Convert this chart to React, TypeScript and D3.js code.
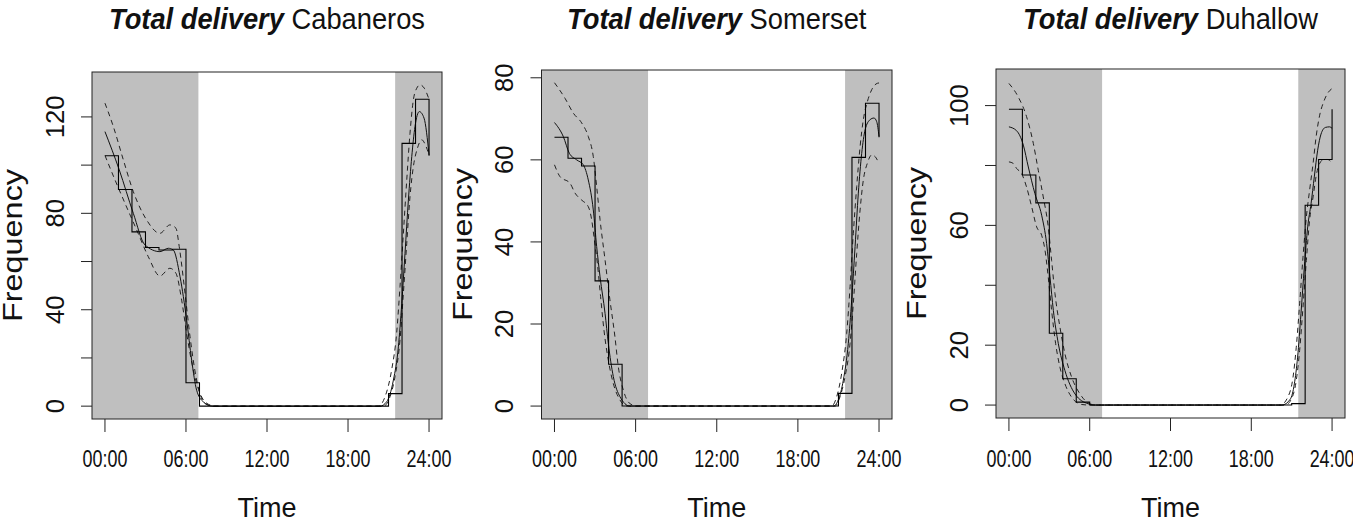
import React from "react";
import * as d3 from "d3";

// ---------- DATA ----------
const panelNames = ["Cabaneros", "Somerset", "Duhallow"];
const xTickHours = [0, 6, 12, 18, 24];
const xTickLabels = ["00:00", "06:00", "12:00", "18:00", "24:00"];
const nightEdges = [6.92, 21.49]; // sunrise, sunset (hours)

const yMaxes = [133.3, 78.75, 107.9];
const yTicks = [
  [0, 20, 40, 60, 80, 100, 120],
  [0, 20, 40, 60, 80],
  [0, 20, 40, 60, 80, 100],
];
const yTickLabels = [
  ["0", "", "40", "", "80", "", "120"],
  ["0", "20", "40", "60", "80"],
  ["0", "20", "", "60", "", "100"],
];

// hourly observed frequencies, hour 0..24 (24 wraps to 0)
const cabanerosSteps = [103.9, 89.9, 72.3, 65.8, 64.8, 65.1, 9.7, 0, 0, 0, 0, 0, 0, 0, 0, 0, 0, 0, 0, 0, 0, 5.2, 109, 127.3, 103.9];
const somersetSteps = [65.5, 60.4, 58.5, 30.5, 10.2, 0, 0, 0, 0, 0, 0, 0, 0, 0, 0, 0, 0, 0, 0, 0, 0, 3.1, 60.6, 73.8, 65.5];
const duhallowSteps = [98.8, 76.8, 67.5, 24, 8.8, 1.0, 0, 0, 0, 0, 0, 0, 0, 0, 0, 0, 0, 0, 0, 0, 0, 0.5, 66.7, 82, 98.8];

// smoothed fit [hour, value]
const cabanerosMean = [[0,113.9],[1.06,98],[2.1,80],[2.96,66.9],[4.07,64.1],[4.69,65.5],[5.06,64.8],[5.56,53.7],[6.05,35.7],[6.42,19.1],[6.79,6.6],[7.28,1.8],[8.0,0],[20.37,0],[20.86,1.8],[21.36,10.8],[21.73,24.6],[21.98,42.6],[22.22,63.4],[22.47,85.5],[22.72,103.5],[22.96,116],[23.28,122.2],[23.63,119.5],[24,104.2]];
const cabanerosUpper = [[0,125.7],[0.62,116],[1.36,102.2],[2.1,89],[3.09,77.2],[4.07,71.7],[4.81,75.2],[5.26,73.8],[5.5,66.2],[5.93,46.8],[6.3,28.8],[6.79,10.8],[7.4,1.1],[8,0],[20.25,0],[20.74,3.9],[21.23,15],[21.6,30.2],[21.85,49.6],[22.1,71.7],[22.35,93.9],[22.59,113.2],[22.84,127.1],[23.09,131.9],[23.33,133.3],[23.65,131.9],[24,127.3]];
const cabanerosLower = [[0,104],[0.74,93.9],[1.48,84.2],[2.35,73.1],[3.21,62],[4.07,54],[4.81,57.2],[5.26,55.1],[5.68,44],[6.05,30.2],[6.54,15],[7.04,5.3],[7.65,0.8],[8.2,0],[20.62,0],[21.11,3.9],[21.48,12.2],[21.85,27.4],[22.1,46.8],[22.35,67.6],[22.59,86.9],[22.84,99.4],[23.14,107],[23.46,110.5],[23.78,107.7],[24,104.2]];

const somersetMean = [[0,69.1],[0.65,65.7],[1.1,61.6],[1.64,60],[2.13,58.8],[2.5,55.1],[2.87,47.8],[3.12,38.9],[3.37,31.5],[3.74,22.6],[3.98,15.3],[4.35,7.2],[4.84,2.3],[5.58,0],[20.62,0],[20.99,1.5],[21.36,6.3],[21.73,15.3],[21.98,25.9],[22.23,38.9],[22.47,51.9],[22.72,61.6],[22.97,67.3],[23.34,69.8],[23.63,70.2],[23.83,69.3],[24,65.7]];
const somersetUpper = [[0,78.8],[0.78,75],[1.39,71.4],[2.01,69],[2.5,65.7],[2.87,60.8],[3.12,53.5],[3.37,45.4],[3.74,35.6],[4.1,25.9],[4.47,16.9],[4.72,9.6],[5.09,3.9],[5.58,0.6],[6.08,0],[20.5,0],[20.87,2.3],[21.24,8],[21.61,17.7],[21.86,29.1],[22.1,42.1],[22.35,53.5],[22.6,63.2],[22.84,69.8],[23.14,74.2],[23.46,77.1],[23.78,78.5],[24,78.75]];
const somersetLower = [[0,58.8],[0.41,55.9],[1.15,54.3],[1.52,51.9],[2.01,50.2],[2.5,48.6],[2.75,45.4],[2.92,41.3],[3.17,34.8],[3.41,26.7],[3.66,18.5],[3.98,11.2],[4.35,5.5],[4.84,1.5],[5.33,0],[20.75,0],[21.12,2.3],[21.49,7.2],[21.86,15.3],[22.1,25],[22.35,37.2],[22.6,47.8],[22.84,55.1],[23.14,59.2],[23.46,61.2],[23.71,60.8],[23.98,59.2]];

const duhallowMean = [[0,92.9],[0.57,91.6],[1.07,86.8],[1.44,79.5],[1.93,70.6],[2.43,63.4],[2.8,53.9],[3.05,42.8],[3.3,31.6],[3.67,20.5],[4.16,11.5],[4.91,3.7],[5.9,0.4],[6.4,0],[20.28,0],[20.9,2],[21.2,7.1],[21.44,16],[21.69,30.5],[21.94,46.1],[22.19,59.5],[22.44,67.3],[22.68,76.2],[22.93,85.1],[23.18,90.5],[23.5,92.7],[23.82,92.9],[24,92.4]];
const duhallowUpper = [[0,107.4],[0.69,102.9],[1.31,96.3],[1.81,87.4],[2.18,78.4],[2.55,69.5],[2.92,59.5],[3.17,48.3],[3.42,37.2],[3.79,26],[4.16,17.1],[4.66,9.3],[5.28,3.7],[6.02,0.4],[6.5,0],[20.15,0],[20.77,3.2],[21.1,9.3],[21.34,19.3],[21.59,33.8],[21.84,49.4],[22.09,62.8],[22.33,71.7],[22.59,80.7],[22.83,90.1],[23.08,96.8],[23.38,101.3],[23.67,104.1],[24,105.7]];
const duhallowLower = [[0,81.2],[0.32,80.7],[0.57,79],[0.94,77.3],[1.31,72.8],[1.69,66.2],[2.06,59.5],[2.43,56.7],[2.68,51.7],[2.92,42.7],[3.17,31.6],[3.47,20.5],[3.79,12.6],[4.16,7.1],[4.66,2.6],[5.4,0.2],[6.0,0],[20.53,0],[21.02,2.4],[21.34,8.2],[21.59,18.2],[21.84,32.7],[22.09,48.3],[22.33,61.7],[22.59,69.5],[22.83,76.8],[23.08,80.7],[23.38,82],[23.67,82],[23.93,81.2]];

const stepSeries = [cabanerosSteps, somersetSteps, duhallowSteps];
const meanSeries = [cabanerosMean, somersetMean, duhallowMean];
const upperSeries = [cabanerosUpper, somersetUpper, duhallowUpper];
const lowerSeries = [cabanerosLower, somersetLower, duhallowLower];

// ---------- LAYOUT ----------
const boxes = [
  { l: 92, r: 442, t: 72, b: 419 },
  { l: 541.5, r: 892, t: 70, b: 419 },
  { l: 996, r: 1345, t: 69, b: 418 },
];
const FONT = "'Liberation Sans', Arial, Helvetica, sans-serif";
const INK = "#111";

function Panel({ i }: { i: number }) {
  const box = boxes[i];
  const M = yMaxes[i];
  const x = d3.scaleLinear().domain([-0.96, 24.96]).range([box.l, box.r]);
  const y = d3.scaleLinear().domain([-0.04 * M, 1.04 * M]).range([box.b, box.t]);
  const cx = (box.l + box.r) / 2;
  const cy = (box.t + box.b) / 2;

  const stepLine = d3
    .line<number>()
    .x((_, k) => x(k))
    .y((v) => y(v))
    .curve(d3.curveStepAfter);
  const smooth = d3
    .line<number[]>()
    .x((d) => x(d[0]))
    .y((d) => y(d[1]))
    .curve(d3.curveMonotoneX);

  return (
    <g>
      {/* night shading */}
      <rect x={box.l} y={box.t} width={x(nightEdges[0]) - box.l} height={box.b - box.t} fill="#bfbfbf" />
      <rect x={x(nightEdges[1])} y={box.t} width={box.r - x(nightEdges[1])} height={box.b - box.t} fill="#bfbfbf" />

      {/* curves */}
      <path d={smooth(upperSeries[i]) || ""} fill="none" stroke="#222" strokeWidth={1} strokeDasharray="5,4" />
      <path d={smooth(lowerSeries[i]) || ""} fill="none" stroke="#222" strokeWidth={1} strokeDasharray="5,4" />
      <path d={smooth(meanSeries[i]) || ""} fill="none" stroke="#111" strokeWidth={1} />
      <path d={stepLine(stepSeries[i]) || ""} fill="none" stroke="#000" strokeWidth={1.1} />

      {/* box */}
      <rect x={box.l} y={box.t} width={box.r - box.l} height={box.b - box.t} fill="none" stroke="#222" strokeWidth={1} />

      {/* x axis */}
      {xTickHours.map((h, k) => (
        <g key={"xt" + k}>
          <line x1={x(h)} x2={x(h)} y1={box.b} y2={box.b + 13} stroke="#222" strokeWidth={1} />
          <text
            transform={`translate(${x(h)},466.5) scale(0.78,1)`}
            textAnchor="middle"
            fontFamily={FONT}
            fontSize={23}
            fill={INK}
          >
            {xTickLabels[k]}
          </text>
        </g>
      ))}

      {/* y axis */}
      {yTicks[i].map((v, k) => (
        <g key={"yt" + k}>
          <line x1={box.l - 11} x2={box.l} y1={y(v)} y2={y(v)} stroke="#222" strokeWidth={1} />
          {yTickLabels[i][k] !== "" && (
            <text
              transform={`translate(${box.l - 28.5},${y(v)}) rotate(-90)`}
              textAnchor="middle"
              fontFamily={FONT}
              fontSize={25.6}
              fill={INK}
            >
              {yTickLabels[i][k]}
            </text>
          )}
        </g>
      ))}

      {/* axis titles */}
      <text
        transform={`translate(${box.l - 70},${cy}) rotate(-90) scale(1.2,1)`}
        textAnchor="middle"
        fontFamily={FONT}
        fontSize={27}
        fill={INK}
      >
        Frequency
      </text>
      <text x={cx} y={516.5} textAnchor="middle" fontFamily={FONT} fontSize={27} fill={INK}>
        Time
      </text>

      {/* panel title */}
      <text
        transform={`translate(${cx},29) scale(0.91,1)`}
        textAnchor="middle"
        fontFamily={FONT}
        fontSize={30}
        fill={INK}
      >
        <tspan fontWeight="bold" fontStyle="italic">Total delivery</tspan>
        <tspan> {panelNames[i]}</tspan>
      </text>
    </g>
  );
}

export default function App() {
  return (
    <svg
      width={1353}
      height={524}
      viewBox="0 0 1353 524"
      style={{ position: "absolute", left: 0, top: 0, display: "block", background: "#fff" }}
    >
      <rect width={1353} height={524} fill="#fff" />
      {panelNames.map((_, i) => (
        <Panel key={i} i={i} />
      ))}
    </svg>
  );
}
